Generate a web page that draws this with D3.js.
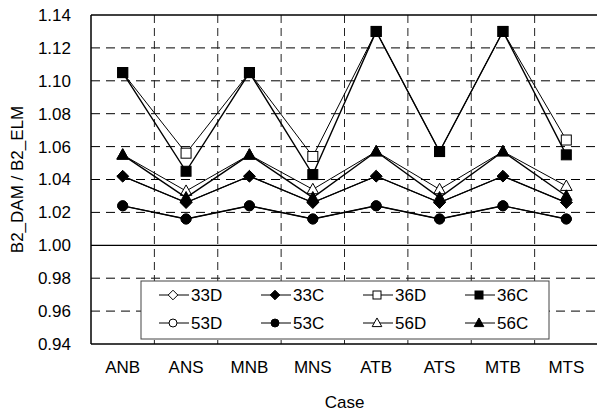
<!DOCTYPE html>
<html><head><meta charset="utf-8">
<script src="https://cdn.jsdelivr.net/npm/d3@7"></script>
<style>body{margin:0;background:#fff}svg{display:block}text{font-family:"Liberation Sans",Arial,sans-serif;fill:#000}</style>
</head><body>
<script>
const categories = ["ANB","ANS","MNB","MNS","ATB","ATS","MTB","MTS"];
const yTicks = [0.94,0.96,0.98,1.00,1.02,1.04,1.06,1.08,1.10,1.12,1.14];
const s33D = [1.042,1.026,1.042,1.026,1.042,1.026,1.042,1.026];
const s33C = [1.042,1.026,1.042,1.026,1.042,1.026,1.042,1.026];
const s36D = [1.105,1.056,1.105,1.054,1.130,1.057,1.130,1.064];
const s36C = [1.105,1.045,1.105,1.043,1.130,1.057,1.130,1.055];
const s53D = [1.024,1.016,1.024,1.016,1.024,1.016,1.024,1.016];
const s53C = [1.024,1.016,1.024,1.016,1.024,1.016,1.024,1.016];
const s56D = [1.055,1.033,1.055,1.034,1.057,1.034,1.057,1.036];
const s56C = [1.055,1.029,1.055,1.029,1.057,1.029,1.057,1.030];
const seriesNames = ["33D","33C","36D","36C","53D","53C","56D","56C"];
const seriesVals = [s33D,s33C,s36D,s36C,s53D,s53C,s56D,s56C];
const seriesShape = ["diamond","diamond","square","square","circle","circle","triangle","triangle"];
const seriesFilled = [false,true,false,true,false,true,false,true];

const W=597,H=412, L=91, R=598, T=15, B=344;
const FS="17px";
const svg=d3.select("body").append("svg").attr("width",W).attr("height",H);
const x=d3.scaleBand().domain(categories).range([L,R]);
const y=d3.scaleLinear().domain([0.94,1.14]).range([B,T]);

// grid
const g=svg.append("g");
g.selectAll(".hg").data(yTicks.filter(v=>v>0.945&&v<1.135)).enter().append("line")
 .attr("x1",L).attr("x2",R).attr("y1",d=>y(d)).attr("y2",d=>y(d))
 .attr("stroke","#000").attr("stroke-width",d=>Math.abs(d-1)<1e-6?1.3:1)
 .attr("stroke-dasharray",d=>Math.abs(d-1)<1e-6?null:"9,6");
g.selectAll(".vg").data(categories.slice(1)).enter().append("line")
 .attr("x1",d=>x(d)).attr("x2",d=>x(d)).attr("y1",T).attr("y2",B)
 .attr("stroke","#222").attr("stroke-width",1).attr("stroke-dasharray","8,5");

// frame
svg.append("line").attr("x1",L).attr("x2",R).attr("y1",T).attr("y2",T).attr("stroke","#000").attr("stroke-width",1.3);
svg.append("line").attr("x1",L).attr("x2",L).attr("y1",T).attr("y2",B).attr("stroke","#000").attr("stroke-width",1.5);
svg.append("line").attr("x1",L).attr("x2",R).attr("y1",B).attr("y2",B).attr("stroke","#000").attr("stroke-width",1.5);

// axes labels
const yAxis=d3.axisLeft(y).tickValues(yTicks).tickFormat(d3.format(".2f")).tickSize(0).tickPadding(20);
const ya=svg.append("g").attr("transform",`translate(${L},0)`).call(yAxis);
ya.select(".domain").remove();
ya.selectAll("text").style("font-size",FS).style("font-family","Liberation Sans, Arial, sans-serif");
const xAxis=d3.axisBottom(x).tickSize(0).tickPadding(17);
const xa=svg.append("g").attr("transform",`translate(0,${B})`).call(xAxis);
xa.select(".domain").remove();
xa.selectAll("text").style("font-size",FS).style("font-family","Liberation Sans, Arial, sans-serif");

svg.append("text").attr("x",(L+R)/2).attr("y",408).attr("text-anchor","middle").style("font-size",FS).text("Case");
svg.append("text").attr("transform",`translate(23,${(T+B)/2}) rotate(-90)`).attr("text-anchor","middle").style("font-size",FS).text("B2_DAM / B2_ELM");

function marker(sel,shape,filled,s){
  let p;
  if(shape==="circle") p=sel.append("circle").attr("r",s/2);
  else if(shape==="square") p=sel.append("rect").attr("x",-s/2).attr("y",-s/2).attr("width",s).attr("height",s);
  else if(shape==="diamond"){const r=s/2+0.8;p=sel.append("path").attr("d",`M0,${-r}L${r},0L0,${r}L${-r},0Z`);}
  else {const r=s/2+0.8;p=sel.append("path").attr("d",`M0,${-r*1.05}L${r},${r*0.75}L${-r},${r*0.75}Z`);}
  p.attr("fill",filled?"#000":"#fff").attr("stroke","#000").attr("stroke-width",1);
}

const line=d3.line().x((d,i)=>x(categories[i])+x.bandwidth()/2).y(d=>y(d));
seriesVals.forEach((vals,k)=>{
  const sg=svg.append("g");
  sg.append("path").attr("d",line(vals)).attr("fill","none").attr("stroke","#000").attr("stroke-width",seriesFilled[k]?1.4:1);
  vals.forEach((v,i)=>{
    const m=sg.append("g").attr("transform",`translate(${x(categories[i])+x.bandwidth()/2},${y(v)})`);
    marker(m,seriesShape[k],seriesFilled[k],10);
  });
});

// legend
const lg=svg.append("g");
lg.append("rect").attr("x",141).attr("y",281).attr("width",408).attr("height",58).attr("fill","#fff").attr("stroke","#444").attr("stroke-width",1);
seriesNames.forEach((n,k)=>{
  const col=k%4,row=Math.floor(k/4);
  const lx=159+col*102, ly=295+row*28;
  const it=lg.append("g").attr("transform",`translate(${lx},${ly})`);
  it.append("line").attr("x1",0).attr("x2",30).attr("y1",0).attr("y2",0).attr("stroke","#000").attr("stroke-width",1);
  const m=it.append("g").attr("transform","translate(14,0)");
  marker(m,seriesShape[k],seriesFilled[k],8);
  it.append("text").attr("x",32).attr("y",6).style("font-size",FS).text(n);
});
</script>
</body></html>
